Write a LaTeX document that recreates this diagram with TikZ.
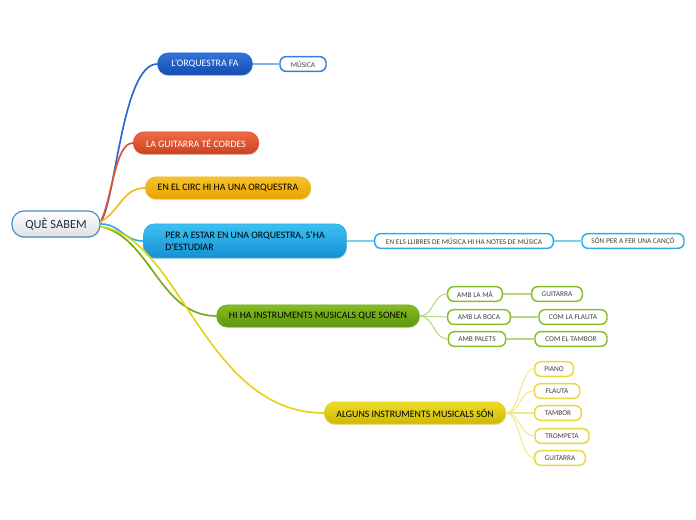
\documentclass[tikz,border=0pt]{standalone}
\usepackage{fontspec}
\setmainfont{Carlito}
\usetikzlibrary{shadows}
\definecolor{rootbd}{HTML}{4A8FCC}
\definecolor{roottx}{HTML}{1F2D4A}
\definecolor{blueT}{HTML}{2E74DC}
\definecolor{blueB}{HTML}{174BAE}
\definecolor{blueL}{HTML}{2A68D0}
\definecolor{redT}{HTML}{EE6A45}
\definecolor{redB}{HTML}{CC421E}
\definecolor{redL}{HTML}{E0522C}
\definecolor{orT}{HTML}{F8C22C}
\definecolor{orB}{HTML}{E6A200}
\definecolor{orL}{HTML}{F5B91C}
\definecolor{cyT}{HTML}{3CC0F0}
\definecolor{cyB}{HTML}{1590D4}
\definecolor{cyL}{HTML}{2AAEE8}
\definecolor{grT}{HTML}{86BE22}
\definecolor{grB}{HTML}{5C9410}
\definecolor{grL}{HTML}{74AC18}
\definecolor{yeT}{HTML}{EEDC2A}
\definecolor{yeB}{HTML}{CDB800}
\definecolor{yeL}{HTML}{E6D21C}
\definecolor{blueS}{HTML}{2D7FE0}
\definecolor{cyS}{HTML}{2AAEE8}
\definecolor{grS}{HTML}{86BE2A}
\definecolor{yeS}{HTML}{EAD83A}
\begin{document}
\begin{tikzpicture}[x=0.75pt,y=-0.75pt,
  mainbox/.style={rounded corners=8pt, minimum height=16.5pt, inner sep=0pt,
    font=\fontsize{7.4}{9}\selectfont, text=black, line width=0.6pt,
    drop shadow={opacity=0.22, shadow xshift=0.4pt, shadow yshift=-0.9pt}},
  subbox/.style={draw, line width=1.1pt, fill=white, rounded corners=4.5pt,
    minimum height=11pt, inner sep=0pt, font=\fontsize{5.5}{6.5}\selectfont, text=black!75},
  trunk/.style={line width=1.25pt},
  twig/.style={line width=0.8pt}
]
\useasboundingbox (0,0) rectangle (696,520);

% root
\node[draw=rootbd, line width=0.9pt, rounded corners=9pt, top color=white, bottom color=black!12,
  minimum width=66pt, minimum height=19.5pt, inner sep=0pt, text=roottx,
  font=\fontsize{9.3}{11}\selectfont,
  drop shadow={opacity=0.2, shadow xshift=0.4pt, shadow yshift=-0.9pt}] (root) at (56,224) {QUÈ SABEM};

% main nodes
\node[mainbox, top color=blueT, bottom color=blueB, draw=blueL, text=white, minimum width=71pt] (n1) at (205,64) {L'ORQUESTRA FA};
\node[mainbox, top color=redT, bottom color=redB, draw=redL, text=white, minimum width=94pt] (n2) at (196,143) {LA GUITARRA TÉ CORDES};
\node[mainbox, top color=orT, bottom color=orB, draw=orL, minimum width=124pt] (n3) at (228,188) {EN EL CIRC HI HA UNA ORQUESTRA};
\node[mainbox, top color=cyT, bottom color=cyB, draw=cyL, minimum width=152pt, minimum height=25.5pt,
  align=left] (n4) at (245,241) {PER A ESTAR EN UNA ORQUESTRA, S'HA\\D'ESTUDIAR};
\node[mainbox, top color=grT, bottom color=grB, draw=grL, minimum width=152pt] (n5) at (318,316) {HI HA INSTRUMENTS MUSICALS QUE SONEN};
\node[mainbox, top color=yeT, bottom color=yeB, draw=yeL, minimum width=136pt] (n6) at (415,413) {ALGUNS INSTRUMENTS MUSICALS SÓN};

% sub nodes
\node[subbox, draw=blueS, minimum width=34.5pt] (s1) at (303,64) {MÚSICA};
\node[subbox, draw=cyS, minimum width=134pt] (s4a) at (464,241) {EN ELS LLIBRES DE MÚSICA HI HA NOTES DE MÚSICA};
\node[subbox, draw=cyS, minimum width=76.5pt] (s4b) at (633,241) {SÓN PER A FER UNA CANÇÓ};

\node[subbox, draw=grS, minimum width=41pt] (s5a) at (475,294) {AMB LA MÀ};
\node[subbox, draw=grS, minimum width=38pt] (s5a2) at (557,294) {GUITARRA};
\node[subbox, draw=grS, minimum width=47pt] (s5b) at (479,317) {AMB LA BOCA};
\node[subbox, draw=grS, minimum width=51pt] (s5b2) at (573,317) {COM LA FLAUTA};
\node[subbox, draw=grS, minimum width=43pt] (s5c) at (477,339) {AMB PALETS};
\node[subbox, draw=grS, minimum width=54pt] (s5c2) at (571,339) {COM EL TAMBOR};

\node[subbox, draw=yeS, minimum width=29pt] (s6a) at (554,369) {PIANO};
\node[subbox, draw=yeS, minimum width=34pt] (s6b) at (557,391) {FLAUTA};
\node[subbox, draw=yeS, minimum width=35pt] (s6c) at (558,413) {TAMBOR};
\node[subbox, draw=yeS, minimum width=40.5pt] (s6d) at (562,436) {TROMPETA};
\node[subbox, draw=yeS, minimum width=38pt] (s6e) at (560,458) {GUITARRA};

% trunk connectors
\draw[trunk, blueL] ([yshift=1.5pt]root.east) .. controls +(15,-20) and +(-35,0) .. (n1.west);
\draw[trunk, redL] ([yshift=1.5pt]root.east) .. controls +(12,-25) and +(-18,0) .. (n2.west);
\draw[trunk, orL] ([yshift=1.5pt]root.east) .. controls +(20,-12) and +(-22,0) .. (n3.west);
\draw[trunk, cyL] (root.east) .. controls +(20,0) and +(-20,0) .. (n4.west);
\draw[trunk, grL] ([yshift=-2pt]root.east) .. controls +(50,10) and +(-57,0) .. (n5.west);
\draw[trunk, yeL] ([yshift=-2pt]root.east) .. controls +(80,10) and +(-120,0) .. (n6.west);

% twigs
\draw[twig, blueS!60] (n1.east) -- (s1.west);
\draw[twig, cyS!60] (n4.east) -- (s4a.west);
\draw[twig, cyS!60] (s4a.east) -- (s4b.west);
\foreach \t in {s5a,s5b,s5c}
  \draw[twig, grS!60] (n5.east) .. controls +(14,0) and +(-14,0) .. (\t.west);
\draw[twig, grS!60] (s5a.east) -- (s5a2.west);
\draw[twig, grS!60] (s5b.east) -- (s5b2.west);
\draw[twig, grS!60] (s5c.east) -- (s5c2.west);
\foreach \t in {s6a,s6b,s6c,s6d,s6e}
  \draw[twig, yeS!60] (n6.east) .. controls +(14,0) and +(-14,0) .. (\t.west);
\end{tikzpicture}
\end{document}
